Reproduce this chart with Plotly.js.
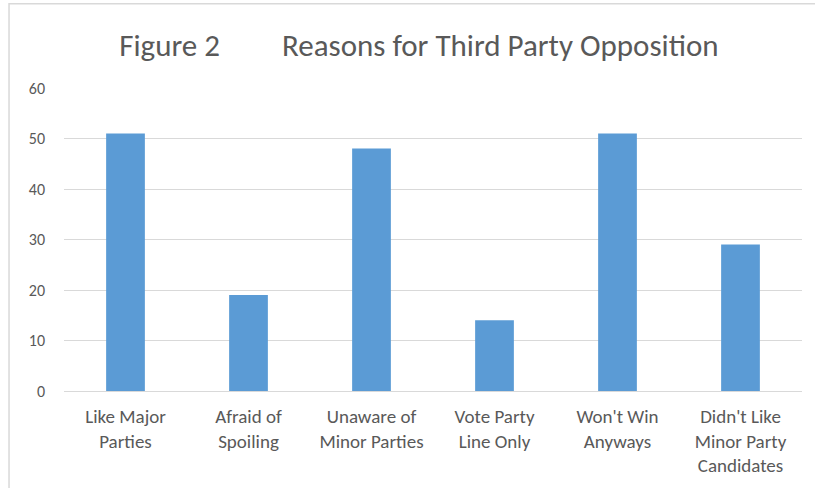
<!DOCTYPE html>
<html>
<head>
<meta charset="utf-8">
<script src="https://cdn.plot.ly/plotly-3.0.1.min.js"></script>
<style>
  html, body { margin: 0; padding: 0; background: #ffffff; }
  #chart { width: 815px; height: 488px; }
</style>
</head>
<body>
<div id="chart"></div>
<script>
// Reasons given for opposing third parties
const categories = [
  "Like Major<br>Parties",
  "Afraid of<br>Spoiling",
  "Unaware of<br>Minor Parties",
  "Vote Party<br>Line Only",
  "Won't Win<br>Anyways",
  "Didn't Like<br>Minor Party<br>Candidates"
];
const counts = [51, 19, 48, 14, 51, 29];
const yTicks = [0, 10, 20, 30, 40, 50, 60];

const fontFamily = "Carlito, Lato, 'Open Sans', sans-serif";
const textColor = "#595959";
const gridColor = "#d9d9d9";

const trace = {
  type: "bar",
  x: categories,
  y: counts,
  marker: { color: "#5b9bd5", line: { width: 0 } },
  hoverinfo: "x+y"
};

const layout = {
  width: 815,
  height: 488,
  margin: { l: 64, r: 13, t: 88, b: 97 },
  paper_bgcolor: "#ffffff",
  plot_bgcolor: "#ffffff",
  showlegend: false,
  bargap: 0.685,
  font: { family: fontFamily, color: textColor },
  title: {
    text: "Figure 2\u2003\u2003Reasons for Third Party Opposition",
    font: { family: fontFamily, size: 31, color: textColor },
    x: 0.514,
    xanchor: "center",
    xref: "container",
    y: 0.908,
    yanchor: "middle",
    yref: "container"
  },
  xaxis: {
    type: "category",
    showgrid: false,
    zeroline: false,
    showline: true,
    linecolor: gridColor,
    linewidth: 1,
    ticks: "",
    tickfont: { family: fontFamily, size: 19, color: textColor },
    ticklabelstandoff: 8
  },
  yaxis: {
    range: [0, 60],
    tickvals: yTicks,
    ticktext: yTicks.map(String),
    showgrid: true,
    gridcolor: gridColor,
    gridwidth: 1,
    zeroline: false,
    showline: false,
    ticks: "",
    tickfont: { family: fontFamily, size: 16, color: textColor },
    ticklabelstandoff: 18
  },
  shapes: [
    {
      type: "path",
      xref: "paper",
      yref: "paper",
      path: "M -0.0745 -0.45 L -0.0745 1.2777 L 1.05 1.2777",
      line: { color: gridColor, width: 1.5 },
      layer: "above"
    }
  ]
};

Plotly.newPlot("chart", [trace], layout, { displayModeBar: false, staticPlot: true });
</script>
</body>
</html>
